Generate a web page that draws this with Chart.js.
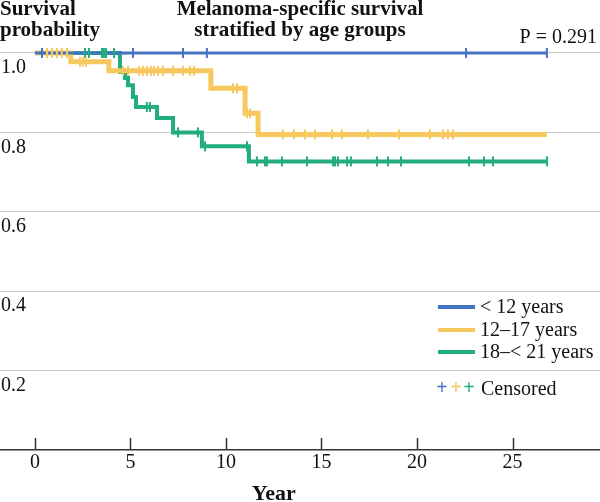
<!DOCTYPE html>
<html>
<head>
<meta charset="utf-8">
<script src="https://cdn.jsdelivr.net/npm/chart.js@4/dist/chart.umd.min.js"></script>
<style>
  html, body { margin: 0; padding: 0; background: #fff; }
  #wrap { width: 600px; height: 502px; }
</style>
</head>
<body>
<div id="wrap"><canvas id="km"></canvas></div>
<script>
// Dados (anos, sobrevida)
var grupos = ['< 12 years', '12\u201317 years', '18\u2013< 21 years'];
var cores = ['#4472C4', '#F7C85E', '#22AD7D'];

var anosMenor12 = [0, 26.8];
var survMenor12 = [1.0, 1.0];
var censMenor12 = [0.37, 5.13, 7.75, 9.0, 22.57, 26.8];

var anos12a17 = [0, 1.88, 3.87, 9.21, 11.0, 11.68, 26.8];
var surv12a17 = [1.0, 0.978, 0.955, 0.911, 0.848, 0.795, 0.795];
var cens12a17 = [0.63, 0.89, 1.15, 1.41, 1.68, 2.36, 2.51, 2.67, 4.61, 4.87, 5.45, 5.65, 5.86,
    6.07, 6.23, 6.44, 6.70, 7.23, 7.75, 8.12, 8.32, 10.37, 10.58, 11.10, 11.26, 12.98, 13.56,
    14.14, 14.66, 15.55, 16.07, 17.43, 19.06, 20.68, 21.36, 21.62, 21.88];

var anos18a21 = [0, 4.45, 4.71, 4.87, 5.13, 5.29, 6.39, 7.23, 8.74, 11.2, 26.8];
var surv18a21 = [1.0, 0.952, 0.937, 0.919, 0.889, 0.864, 0.836, 0.800, 0.765, 0.727, 0.727];
var cens18a21 = [2.62, 2.83, 3.51, 3.61, 3.72, 4.14, 5.86, 6.02, 7.49, 8.53, 8.90, 11.10, 11.62,
    12.04, 12.15, 12.93, 14.24, 15.60, 15.71, 15.86, 16.34, 16.54, 17.91, 18.48, 19.16, 22.72,
    23.51, 23.98, 26.81];

var xTicks = [0, 5, 10, 15, 20, 25];
var yTicks = [0.2, 0.4, 0.6, 0.8, 1.0];

var fonte = '"Liberation Serif", "Times New Roman", serif';

function pontos(anos, surv) {
    return anos.map(function (a, i) { return { x: a, y: surv[i] }; });
}

// valor da curva (degrau) no tempo t
function valorEm(anos, surv, t) {
    var v = surv[0];
    for (var i = 0; i < anos.length; i++) {
        if (anos[i] <= t) v = surv[i];
    }
    return v;
}

function censurados(cens, anos, surv) {
    return cens.map(function (t) { return { x: t, y: valorEm(anos, surv, t) }; });
}

function curva(idx, anos, surv, largura) {
    return {
        label: grupos[idx],
        data: pontos(anos, surv),
        showLine: true,
        stepped: true,
        borderColor: cores[idx],
        borderWidth: largura,
        pointRadius: 0,
        fill: false,
        order: 10 + idx
    };
}

function marcas(idx, cens, anos, surv) {
    return {
        label: 'Censored',
        data: censurados(cens, anos, surv),
        showLine: false,
        pointStyle: 'line',
        rotation: 90,
        pointRadius: 5,
        pointBorderWidth: 2,
        pointBorderColor: cores[idx],
        pointBackgroundColor: cores[idx],
        order: idx
    };
}

// tira o padding que o Chart.js reserva para os rotulos nas pontas
function semPadding(s) {
    s.paddingTop = 0;
    s.paddingBottom = 0;
    s.paddingLeft = 0;
    s.paddingRight = 0;
}

// Textos, legenda e marcas internas do eixo x
var textosPlugin = {
    id: 'textos',
    afterDraw: function (chart) {
        var ctx = chart.ctx;
        var xs = chart.scales.x;
        var area = chart.chartArea;
        ctx.save();

        // ticks voltados para dentro
        ctx.strokeStyle = '#333';
        ctx.lineWidth = 1.5;
        xTicks.forEach(function (v) {
            var px = Math.round(xs.getPixelForValue(v)) + 0.5;
            ctx.beginPath();
            ctx.moveTo(px, area.bottom - 12);
            ctx.lineTo(px, area.bottom);
            ctx.stroke();
        });

        ctx.fillStyle = '#111';
        ctx.textBaseline = 'alphabetic';
        ctx.font = 'bold 21px ' + fonte;
        ctx.textAlign = 'left';
        ctx.fillText('Survival', 0, 15);
        ctx.fillText('probability', 0, 36);
        ctx.textAlign = 'center';
        ctx.fillText('Melanoma-specific survival', 300, 15);
        ctx.fillText('stratified by age groups', 300, 36);

        ctx.font = '20px ' + fonte;
        ctx.textAlign = 'right';
        ctx.fillText('P = 0.291', 597, 43);

        ctx.font = 'bold 22px ' + fonte;
        ctx.textAlign = 'center';
        ctx.fillText('Year', xs.getPixelForValue(12.5), 500);

        // legenda
        var linhaY = [307, 330, 352];
        ctx.font = '20px ' + fonte;
        ctx.textAlign = 'left';
        ctx.textBaseline = 'middle';
        for (var i = 0; i < grupos.length; i++) {
            ctx.strokeStyle = cores[i];
            ctx.lineWidth = 4;
            ctx.beginPath();
            ctx.moveTo(438, linhaY[i]);
            ctx.lineTo(475, linhaY[i]);
            ctx.stroke();
            ctx.fillStyle = '#111';
            ctx.fillText(grupos[i], 480, linhaY[i] + 1);
        }
        var plusX = [442, 456, 469];
        ctx.font = 'bold 20px ' + fonte;
        ctx.textAlign = 'center';
        for (var j = 0; j < 3; j++) {
            ctx.fillStyle = cores[j];
            ctx.fillText('+', plusX[j], 389);
        }
        ctx.font = '20px ' + fonte;
        ctx.fillStyle = '#111';
        ctx.textAlign = 'left';
        ctx.fillText('Censored', 481, 390);
        ctx.restore();
    }
};

var chart = new Chart(document.getElementById('km'), {
    type: 'scatter',
    data: {
        datasets: [
            marcas(0, censMenor12, anosMenor12, survMenor12),
            marcas(1, cens12a17, anos12a17, surv12a17),
            marcas(2, cens18a21, anos18a21, surv18a21),
            curva(0, anosMenor12, survMenor12, 3),
            curva(1, anos12a17, surv12a17, 5),
            curva(2, anos18a21, surv18a21, 4)
        ]
    },
    options: {
        responsive: true,
        maintainAspectRatio: false,
        animation: false,
        layout: { padding: 0, autoPadding: false },
        plugins: {
            legend: { display: false },
            tooltip: { enabled: false },
            title: { display: false }
        },
        scales: {
            x: {
                type: 'linear',
                min: -1.83,
                max: 29.58,
                afterBuildTicks: function (s) {
                    s.ticks = xTicks.map(function (v) { return { value: v }; });
                },
                afterFit: function (s) {
                    s.height = 52;
                    semPadding(s);
                },
                grid: { display: false, drawTicks: false },
                border: { display: true, color: '#333', width: 1.5 },
                ticks: {
                    padding: 1,
                    color: '#111',
                    font: { family: fonte, size: 20 },
                    maxRotation: 0
                }
            },
            y: {
                type: 'linear',
                min: 0,
                max: 1.1335,
                afterBuildTicks: function (s) {
                    s.ticks = yTicks.map(function (v) { return { value: v }; });
                },
                afterFit: function (s) {
                    s.width = 0;
                    semPadding(s);
                },
                grid: { color: '#c8c8c8', lineWidth: 1, drawTicks: false },
                border: { display: false },
                ticks: {
                    mirror: true,
                    padding: 1,
                    labelOffset: 15,
                    color: '#111',
                    font: { family: fonte, size: 20 },
                    callback: function (v) { return v.toFixed(1); }
                }
            }
        }
    },
    plugins: [textosPlugin]
});
</script>
</body>
</html>
